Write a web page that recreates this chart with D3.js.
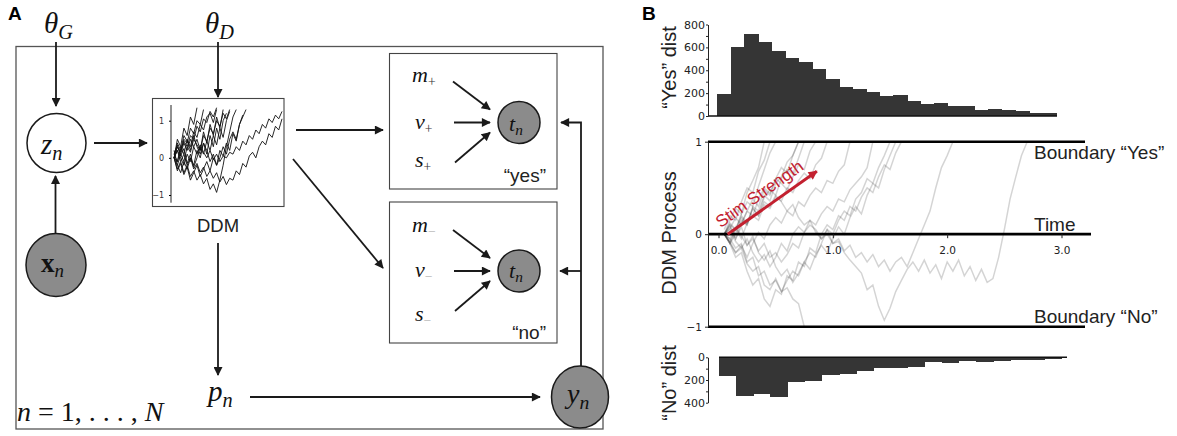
<!DOCTYPE html>
<html>
<head>
<meta charset="utf-8">
<script src="https://cdn.jsdelivr.net/npm/d3@7"></script>
<style>
body { margin: 0; background: #fff; }
</style>
</head>
<body>
<svg id="fig" width="1177" height="436"></svg>
<script>
// ---- data ----
var yesCounts = [189, 602, 716, 646, 567, 506, 471, 410, 323, 253, 236, 209, 172, 183, 131, 105, 113, 87, 87, 52, 61, 52, 44, 26, 26];
var noCounts = [162, 338, 321, 347, 221, 206, 153, 144, 118, 91, 91, 82, 38, 47, 32, 38, 29, 24, 21, 15];
var yesTicks = [0, 100, 200, 300, 400, 500, 600, 700, 800];
var noTicks = [0, 100, 200, 300, 400];
var timeTicks = [0, 1, 2, 3];
var ddmTicks = [-1, 0, 1];
var stimArrow = [[0.08, 0], [0.86, 0.68]];

// big DDM traces, sampled every 0.05 s starting at t = 0.05
var traceStart = 0.05, traceStep = 0.05;
var ddmTraces = [
  [0, 0.15, 0.28, 0.22, 0.45, 0.58, 0.72, 1.0],
  [0, 0.12, 0.05, 0.22, 0.35, 0.30, 0.52, 0.70, 0.88, 1.0],
  [0.05, 0.2, 0.15, 0.35, 0.5, 0.45, 0.68, 0.8, 1.0],
  [0, -0.1, 0.05, 0.18, 0.1, 0.3, 0.25, 0.42, 0.36, 0.55, 0.62, 0.78, 0.85, 1.0],
  [0, 0.08, -0.05, 0.12, 0.25, 0.2, 0.38, 0.5, 0.44, 0.6, 0.72, 0.66, 0.85, 1.0],
  [0, -0.1, 0.0, 0.15, 0.1, 0.28, 0.2, 0.4, 0.48, 0.42, 0.6, 0.7, 0.65, 0.82, 1.0],
  [0, -0.08, 0.06, -0.05, 0.12, 0.2, 0.15, 0.32, 0.28, 0.4, 0.36, 0.5, 0.45, 0.58, 0.66, 0.6, 0.75, 0.82, 1.0],
  [0, -0.1, -0.2, -0.12, -0.25, -0.1, 0.02, -0.05, 0.1, 0.18, 0.12, 0.25, 0.2, 0.35, 0.3, 0.42, 0.5, 0.45, 0.58, 0.55, 0.68, 0.75, 1.0],
  [0, 0.05, -0.08, -0.15, -0.05, -0.2, -0.3, -0.22, -0.35, -0.25, -0.1, -0.18, 0.0, 0.08, 0.02, 0.15, 0.1, 0.22, 0.3, 0.25, 0.38, 0.35, 0.48, 0.55, 0.62, 0.72, 1.0],
  [0, -0.1, -0.25, -0.2, -0.4, -0.55, -0.48, -0.7, -0.78, -0.6, -0.65, -0.45, -0.5, -0.3, -0.35, -0.15, -0.2, 0.0, 0.1, 0.05, 0.2, 0.15, 0.3, 0.25, 0.4, 0.5, 0.45, 0.62, 0.75, 0.7, 0.88, 1.0],
  [0, -0.05, -0.15, -0.1, -0.3, -0.25, -0.45, -0.4, -0.55, -0.5, -0.62, -0.58, -0.7, -0.75, -1.0],
  [0, -0.08, -0.2, -0.15, -0.32, -0.4, -0.35, -0.55, -0.6, -0.48, -0.62, -0.5, -0.4, -0.45, -0.3, -0.2, -0.25, -0.1, 0.05, 0.0, 0.15, 0.25, 0.2, 0.38, 0.45, 0.6, 0.55, 0.72, 0.85, 1.0],
  [0, 0.1, 0.05, 0.2, 0.12, 0.28, 0.2, 0.35, 0.3, 0.42, 0.35, 0.25, 0.32, 0.18, 0.1, 0.15, 0.02, -0.05, 0.05, -0.1, -0.05, -0.18, -0.12, -0.25, -0.2, -0.3, -0.22, -0.35, -0.28, -0.4, -0.3, -0.25, -0.35, -0.2, -0.05, 0.1, 0.25, 0.5, 0.72, 0.85, 1.0],
  [0, -0.05, 0.08, -0.02, -0.12, -0.05, -0.18, -0.1, -0.25, -0.2, -0.3, -0.22, -0.1, -0.15, 0.02, 0.1, 0.05, -0.05, 0.0, -0.1, -0.08, -0.2, -0.28, -0.35, -0.42, -0.6, -0.55, -0.78, -0.93, -0.8, -0.62, -0.5, -0.38, -0.3, -0.4, -0.28, -0.42, -0.33, -0.48, -0.3, -0.4, -0.28, -0.45, -0.35, -0.5, -0.38, -0.52, -0.48, -0.25, 0.05, 0.38, 0.62, 0.85, 1.0],
  [0, 0.1, -0.05, 0.08, -0.12, -0.02, -0.2, -0.28, -0.18, -0.35, -0.45, -0.38, -0.52, -0.42, -0.3, -0.38, -0.22, -0.12, -0.2, -0.05, 0.08, 0.0, 0.18, 0.3, 0.22, 0.42, 0.55, 0.5, 0.7, 0.85, 1.0],
  [0, 0.06, 0.18, 0.1, 0.25, 0.38, 0.3, 0.48, 0.42, 0.6, 0.55, 0.48, 0.62, 0.75, 0.7, 0.9, 1.0]
];

// small DDM thumbnail traces, sampled every 0.03 starting at 0.01
var miniStart = 0.01, miniStep = 0.03;
var miniTraces = [
  [0, 0.3, 0.15, 0.5, 0.4, 0.8, 0.65, 1.0, 0.9, 1.3],
  [0.1, -0.1, 0.2, 0.45, 0.3, 0.6, 0.5, 0.85, 0.7, 1.05, 0.95, 1.25, 1.1, 1.35],
  [0, 0.4, 0.2, 0.6, 0.45, 0.3, 0.7, 0.55, 0.9, 0.75, 1.1, 1.2, 0.95, 1.3],
  [0.2, -0.2, 0.1, -0.1, 0.3, 0.15, 0.5, 0.35, 0.2, 0.6, 0.45, 0.8, 0.65, 1.0, 0.85, 1.2, 1.05, 1.3],
  [0, -0.3, -0.1, -0.4, -0.2, -0.5, -0.35, -0.6, -0.45, -0.7, -0.55, -0.85, -0.7, -0.93, -0.6, -0.2, 0.3, 0.7, 1.1, 1.3],
  [0, 0.2, -0.1, 0.1, -0.2, 0.0, -0.3, -0.15, -0.4, -0.25, -0.5, -0.35, -0.55, -0.4, -0.65, -0.5, -0.72, -0.55, -0.6, -0.35, -0.45, -0.15, -0.25, 0.05, 0.15, 0.0, 0.3, 0.45, 0.35, 0.65, 0.55, 0.85, 0.75, 1.05],
  [0, 0.3, 0.1, 0.4, 0.2, 0.5, 0.3, 0.1, 0.35, 0.15, 0.0, 0.2, -0.05, 0.1, -0.1, 0.05, 0.0, 0.15, 0.1, 0.3, 0.2, 0.45, 0.35, 0.6, 0.5, 0.75, 0.65, 0.9, 0.8, 1.05, 0.95, 1.15, 1.05, 1.25],
  [0, 0.5, 0.3, 0.8, 0.6, 1.1, 0.9, 1.35],
  [0, -0.1, 0.3, 0.1, 0.5, 0.2, 0.6, 0.3, 0.1, 0.4, 0.2, -0.1, 0.1, -0.2, 0.0, 0.3, 0.1, 0.5, 0.7, 0.5, 0.9, 1.1, 1.3],
  [0, 0.2, 0.0, -0.2, 0.1, -0.1, 0.3, 0.5, 0.2, 0.7, 0.4, 0.9, 0.6, 1.1, 0.8, 1.3],
  [0, -0.2, -0.4, -0.1, -0.3, 0.0, -0.2, 0.2, 0.0, 0.4, 0.1, 0.6, 0.3, 0.8, 0.5, 1.0, 1.2],
  [0.1, 0.35, 0.05, 0.25, -0.15, 0.1, -0.25, 0.0, 0.3, 0.1, 0.45, 0.2, 0.6, 0.35, 0.8, 0.55, 1.0, 1.25],
  [0, -0.35, -0.15, -0.45, -0.25, -0.6, -0.4, -0.2, -0.5, -0.3, -0.1, -0.35, 0.0, -0.2, 0.2, 0.05, 0.4, 0.2, 0.65, 0.45, 0.9, 1.15]
];

var sans = "'Liberation Sans', Arial, Helvetica, sans-serif";
var serif = "'Liberation Serif', 'Times New Roman', serif";
var tickFont = "'DejaVu Sans', sans-serif";

var svg = d3.select("#fig");
var defs = svg.append("defs");

function marker(id, color) {
  defs.append("marker")
      .attr("id", id)
      .attr("viewBox", "0 0 10 10")
      .attr("refX", 9).attr("refY", 5)
      .attr("markerWidth", 11).attr("markerHeight", 9)
      .attr("markerUnits", "userSpaceOnUse")
      .attr("orient", "auto")
    .append("path")
      .attr("d", "M0,0L10,5L0,10z")
      .attr("fill", color);
}
marker("ah", "#1a1a1a");
marker("ahRed", "#c3202f");

function arrow(x1, y1, x2, y2) {
  svg.append("line")
      .attr("x1", x1).attr("y1", y1).attr("x2", x2).attr("y2", y2)
      .attr("stroke", "#1a1a1a").attr("stroke-width", 1.8)
      .attr("marker-end", "url(#ah)");
}

// math-ish label: base + subscript
function mathLabel(x, y, size, base, sub, opt) {
  opt = opt || {};
  var t = svg.append("text")
      .attr("x", x).attr("y", y)
      .attr("font-family", serif)
      .attr("font-size", size)
      .attr("fill", "#111");
  t.append("tspan").text(base)
      .attr("font-style", opt.bold ? "normal" : "italic")
      .attr("font-weight", opt.bold ? "bold" : "normal");
  t.append("tspan").text(sub)
      .attr("font-size", size * (opt.subScale || 0.7))
      .attr("font-style", opt.subUpright ? "normal" : "italic")
      .attr("fill", opt.subColor || "#111")
      .attr("dy", size * 0.2);
  return t;
}

// ================= panel A =================
svg.append("text").attr("x", 8).attr("y", 20)
    .attr("font-family", sans).attr("font-weight", "bold").attr("font-size", 19).text("A");

svg.append("rect").attr("x", 16).attr("y", 46.5).attr("width", 587).attr("height", 382.5)
    .attr("fill", "none").attr("stroke", "#555").attr("stroke-width", 1.3);

mathLabel(44, 33, 29, "θ", "G");
mathLabel(205, 33, 29, "θ", "D");

arrow(56, 42, 56, 106);
arrow(218, 42, 218, 97);
arrow(94, 143, 147, 143);
arrow(55.5, 234, 55.5, 176);

// z_n
svg.append("circle").attr("cx", 56.5).attr("cy", 143).attr("r", 29.5)
    .attr("fill", "#fff").attr("stroke", "#1a1a1a").attr("stroke-width", 1.5);
mathLabel(41, 154, 29, "z", "n");

// x_n
svg.append("ellipse").attr("cx", 56).attr("cy", 265).attr("rx", 30).attr("ry", 31.5)
    .attr("fill", "#8b8b8b").attr("stroke", "#1a1a1a").attr("stroke-width", 1.5);
mathLabel(41, 272, 27, "x", "n", {bold: true});

// DDM thumbnail
svg.append("rect").attr("x", 152.5).attr("y", 98.5).attr("width", 131.5).attr("height", 108)
    .attr("fill", "#fff").attr("stroke", "#444").attr("stroke-width", 1.1);

var mx = d3.scaleLinear().domain([0, 1]).range([173, 282]);
var my = d3.scaleLinear().domain([-1, 1]).range([195, 120.7]);
var miniAxis = svg.append("g").attr("transform", "translate(171,0)")
    .call(d3.axisLeft(my).tickValues(ddmTicks).tickSize(2).tickPadding(5)
      .tickFormat(function(d) { return d < 0 ? "\u22121" : d; }));
miniAxis.select(".domain").attr("d", "M0,105V202.7").attr("stroke", "#222");
miniAxis.selectAll("text").attr("font-family", tickFont).attr("font-size", 8).attr("fill", "#333");

var miniLine = d3.line()
    .x(function(d, i) { return mx(miniStart + i * miniStep); })
    .y(function(d) { return my(d); });
svg.append("g").selectAll("path").data(miniTraces).enter().append("path")
    .attr("d", miniLine).attr("fill", "none")
    .attr("stroke", "#111").attr("stroke-width", 0.9);

svg.append("text").attr("x", 218).attr("y", 232).attr("text-anchor", "middle")
    .attr("font-family", sans).attr("font-size", 18.5).attr("fill", "#222").text("DDM");

arrow(296, 130, 383, 130);
arrow(293, 159, 383, 268);
arrow(218, 243, 218, 375);
arrow(250, 397, 540, 397);

// yes / no boxes
var boxes = [
  {y: 53.5, h: 135.5, sign: "+", word: "\u201cyes\u201d", tcy: 122.5, wordY: 182,
   my: 82, vy: 128.5, sy: 166.5, tnY: 131},
  {y: 202, h: 141, sign: "\u2212", word: "\u201cno\u201d", tcy: 271, wordY: 338.5,
   my: 231.5, vy: 277, sy: 321, tnY: 278}
];
boxes.forEach(function(b) {
  svg.append("rect").attr("x", 389.5).attr("y", b.y).attr("width", 167.5).attr("height", b.h)
      .attr("fill", "#fff").attr("stroke", "#444").attr("stroke-width", 1.1);
  var sc = b.sign === "+" ? "#333" : "#b5b5b5";
  mathLabel(412, b.my, 22, "m", b.sign, {subUpright: true, subScale: 0.62, subColor: sc});
  mathLabel(415, b.vy, 22, "v", b.sign, {subUpright: true, subScale: 0.62, subColor: sc});
  mathLabel(415, b.sy, 22, "s", b.sign, {subUpright: true, subScale: 0.62, subColor: sc});
  arrow(453, b.tcy - 41, 490, b.tcy - 13);
  arrow(454, b.tcy, 490, b.tcy);
  arrow(455, b.tcy + 40, 490, b.tcy + 10);
  svg.append("circle").attr("cx", 519).attr("cy", b.tcy).attr("r", 21)
      .attr("fill", "#8b8b8b").attr("stroke", "#1a1a1a").attr("stroke-width", 1.5);
  mathLabel(509, b.tnY, 22, "t", "n");
  svg.append("text").attr("x", 546).attr("y", b.wordY).attr("text-anchor", "end")
      .attr("font-family", sans).attr("font-size", 19).attr("fill", "#222").text(b.word);
});

// feedback from y_n to both t_n
svg.append("path").attr("d", "M581,366V122.5H561")
    .attr("fill", "none").attr("stroke", "#1a1a1a").attr("stroke-width", 1.8)
    .attr("marker-end", "url(#ah)");
arrow(581, 271, 560, 271);

// y_n
svg.append("ellipse").attr("cx", 580).attr("cy", 397).attr("rx", 28.5).attr("ry", 31)
    .attr("fill", "#8b8b8b").attr("stroke", "#1a1a1a").attr("stroke-width", 1.5);
mathLabel(567, 403, 28, "y", "n");

// p_n
mathLabel(208, 401, 29, "p", "n");

// plate label
var plate = svg.append("text").attr("x", 17).attr("y", 421)
    .attr("font-family", serif).attr("font-size", 28).attr("fill", "#111");
plate.append("tspan").attr("font-style", "italic").text("n");
plate.append("tspan").text(" = 1, . . . , ");
plate.append("tspan").attr("font-style", "italic").text("N");

// ================= panel B =================
svg.append("text").attr("x", 642).attr("y", 20)
    .attr("font-family", sans).attr("font-weight", "bold").attr("font-size", 19).text("B");

function styleTicks(g, size) {
  g.selectAll("text").attr("font-family", tickFont).attr("font-size", size).attr("fill", "#222");
  g.selectAll("line").attr("stroke", "#222");
  g.select(".domain").attr("stroke", "#222");
}

// "Yes" histogram
var hxYes = d3.scaleLinear().domain([0, yesCounts.length]).range([717.3, 1056]);
var hyYes = d3.scaleLinear().domain([0, 800]).range([116, 24.5]);
svg.append("g").attr("shape-rendering", "crispEdges")
  .selectAll("rect").data(yesCounts).enter().append("rect")
    .attr("x", function(d, i) { return hxYes(i); })
    .attr("width", function(d, i) { return hxYes(i + 1) - hxYes(i) + 0.6; })
    .attr("y", function(d) { return hyYes(d); })
    .attr("height", function(d) { return hyYes(0) - hyYes(d); })
    .attr("fill", "#353535");
svg.append("line").attr("x1", 708).attr("x2", 1057).attr("y1", hyYes(0)).attr("y2", hyYes(0))
    .attr("stroke", "#111").attr("stroke-width", 1.5);
var yAxYes = svg.append("g").attr("transform", "translate(708,0)")
    .call(d3.axisLeft(hyYes).tickValues(yesTicks).tickSize(2).tickSizeOuter(0).tickPadding(1)
      .tickFormat(function(d) { return d % 200 === 0 ? d : ""; }));
styleTicks(yAxYes, 11);
svg.append("text").attr("transform", "translate(676,67.5) rotate(-90)").attr("text-anchor", "middle")
    .attr("font-family", sans).attr("font-size", 20).attr("fill", "#222").text("\u201cYes\u201d dist");

// DDM process
var x = d3.scaleLinear().domain([0, 3]).range([718.5, 1061.5]);
var y = d3.scaleLinear().domain([-1, 1]).range([326.7, 141.7]);

var ddmLine = d3.line()
    .x(function(d, i) { return x(traceStart + i * traceStep); })
    .y(function(d) { return y(d); });
svg.append("g").selectAll("path").data(ddmTraces).enter().append("path")
    .attr("d", ddmLine).attr("fill", "none")
    .attr("stroke", "#000").attr("stroke-opacity", 0.17).attr("stroke-width", 1.5);

// boundaries and time axis
svg.append("line").attr("x1", 708).attr("x2", 1085).attr("y1", y(1)).attr("y2", y(1))
    .attr("stroke", "#000").attr("stroke-width", 2.6);
svg.append("line").attr("x1", 708).attr("x2", 1085).attr("y1", y(-1)).attr("y2", y(-1))
    .attr("stroke", "#000").attr("stroke-width", 2.6);
svg.append("line").attr("x1", 708).attr("x2", 1091).attr("y1", y(0)).attr("y2", y(0))
    .attr("stroke", "#000").attr("stroke-width", 2.8);

var xAx = svg.append("g").attr("transform", "translate(0," + y(0) + ")")
    .call(d3.axisBottom(x).tickValues(timeTicks).tickSize(4).tickPadding(8).tickFormat(d3.format(".1f")));
xAx.select(".domain").remove();
styleTicks(xAx, 10.5);

var yAx = svg.append("g").attr("transform", "translate(708,0)")
    .call(d3.axisLeft(y).tickValues(ddmTicks).tickSize(3).tickSizeOuter(0).tickPadding(3)
      .tickFormat(function(d) { return d < 0 ? "\u22121" : d; }));
styleTicks(yAx, 10.5);

svg.append("text").attr("transform", "translate(676,233) rotate(-90)").attr("text-anchor", "middle")
    .attr("font-family", sans).attr("font-size", 20).attr("fill", "#222").text("DDM Process");

svg.append("text").attr("x", 1034).attr("y", 158.5)
    .attr("font-family", sans).attr("font-size", 19).attr("fill", "#222").text("Boundary \u201cYes\u201d");
svg.append("text").attr("x", 1034).attr("y", 231)
    .attr("font-family", sans).attr("font-size", 19).attr("fill", "#222").text("Time");
svg.append("text").attr("x", 1034).attr("y", 322.5)
    .attr("font-family", sans).attr("font-size", 19).attr("fill", "#222").text("Boundary \u201cNo\u201d");

// stim strength arrow
svg.append("line")
    .attr("x1", x(stimArrow[0][0])).attr("y1", y(stimArrow[0][1]))
    .attr("x2", x(stimArrow[1][0])).attr("y2", y(stimArrow[1][1]))
    .attr("stroke", "#c3202f").attr("stroke-width", 3)
    .attr("marker-end", "url(#ahRed)");
var ang = Math.atan2(y(stimArrow[1][1]) - y(stimArrow[0][1]), x(stimArrow[1][0]) - x(stimArrow[0][0])) * 180 / Math.PI;
svg.append("text")
    .attr("transform", "translate(" + (x(stimArrow[0][0]) - 7) + "," + (y(stimArrow[0][1]) - 6) + ") rotate(" + ang + ")")
    .attr("font-family", sans).attr("font-size", 17).attr("fill", "#c3202f").text("Stim Strength");

// "No" histogram
var hxNo = d3.scaleLinear().domain([0, noCounts.length]).range([719, 1061.7]);
var hyNo = d3.scaleLinear().domain([0, 400]).range([357.3, 402.7]);
svg.append("g").attr("shape-rendering", "crispEdges")
  .selectAll("rect").data(noCounts).enter().append("rect")
    .attr("x", function(d, i) { return hxNo(i); })
    .attr("width", function(d, i) { return hxNo(i + 1) - hxNo(i) + 0.6; })
    .attr("y", hyNo(0))
    .attr("height", function(d) { return hyNo(d) - hyNo(0); })
    .attr("fill", "#353535");
svg.append("line").attr("x1", 719).attr("x2", 1067).attr("y1", hyNo(0)).attr("y2", hyNo(0))
    .attr("stroke", "#111").attr("stroke-width", 1.5);
var yAxNo = svg.append("g").attr("transform", "translate(708,0)")
    .call(d3.axisLeft(hyNo).tickValues(noTicks).tickSize(2).tickSizeOuter(0).tickPadding(1)
      .tickFormat(function(d) { return d % 200 === 0 ? d : ""; }));
styleTicks(yAxNo, 11);
svg.append("text").attr("transform", "translate(676,383) rotate(-90)").attr("text-anchor", "middle")
    .attr("font-family", sans).attr("font-size", 20).attr("fill", "#222").text("\u201cNo\u201d dist");
</script>
</body>
</html>
